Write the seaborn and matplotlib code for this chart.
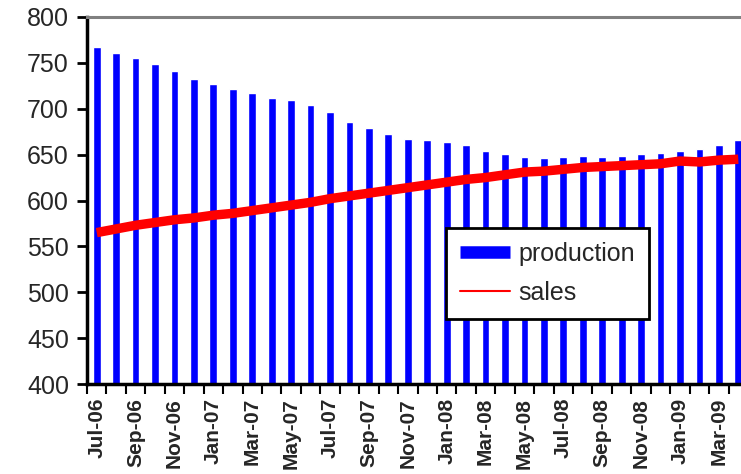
import numpy as np
import pandas as pd
import matplotlib
matplotlib.use("Agg")
import matplotlib.pyplot as plt
from matplotlib.lines import Line2D
import seaborn as sns

months = ["Jul-06", "Aug-06", "Sep-06", "Oct-06", "Nov-06", "Dec-06",
          "Jan-07", "Feb-07", "Mar-07", "Apr-07", "May-07", "Jun-07",
          "Jul-07", "Aug-07", "Sep-07", "Oct-07", "Nov-07", "Dec-07",
          "Jan-08", "Feb-08", "Mar-08", "Apr-08", "May-08", "Jun-08",
          "Jul-08", "Aug-08", "Sep-08", "Oct-08", "Nov-08", "Dec-08",
          "Jan-09", "Feb-09", "Mar-09", "Apr-09"]
production = [767, 761, 755, 749, 741, 732, 727, 721, 717, 712, 710, 704,
              697, 686, 679, 672, 667, 666, 664, 660, 654, 651, 647, 646,
              647, 648, 647, 648, 651, 652, 654, 656, 661, 666]
sales = [565, 569, 573, 576, 579, 581, 584, 586, 589, 592, 595, 598,
         602, 605, 608, 611, 614, 617, 620, 623, 625, 628, 631, 632,
         634, 636, 637, 638, 639, 640, 643, 642, 644, 645]
yticks = [400, 450, 500, 550, 600, 650, 700, 750, 800]

sns.set_theme(style="white")
plt.rcParams["font.family"] = ["Liberation Sans", "DejaVu Sans"]

df = pd.DataFrame({"month": months, "production": production, "sales": sales})
df["pos"] = np.arange(len(df))

fig = plt.figure(figsize=(7.41, 4.74), dpi=100)
ax = fig.add_axes([87 / 741, 90 / 474, 661 / 741, 367 / 474])

sns.barplot(data=df, x="month", y="production", color="#0000FF",
            saturation=1, width=0.4, ax=ax, order=months)
sns.lineplot(data=df, x="pos", y="sales", color="#FF0000", linewidth=6.8,
             ax=ax, solid_capstyle="butt")

ax.set_ylim(400, 800)
ax.set_xlim(-0.5, len(months) - 0.5)
ax.set_yticks(yticks)
ax.set_yticklabels([str(v) for v in yticks], fontsize=18)
ax.set_xticks(np.arange(0, len(months), 2))
ax.set_xticklabels(months[::2], rotation=90, fontsize=15, fontweight="bold")
ax.set_xticks(np.arange(-0.5, len(months), 1), minor=True)
ax.tick_params(axis="x", which="major", length=0, pad=10)
ax.tick_params(axis="x", which="minor", length=7, width=1.5, color="black",
               direction="out", bottom=True)
ax.tick_params(axis="y", length=7, width=2, color="black", direction="out",
               left=True, pad=6)
ax.set_xlabel("")
ax.set_ylabel("")

ax.spines["left"].set_color("black")
ax.spines["left"].set_linewidth(2.5)
ax.spines["bottom"].set_color("black")
ax.spines["bottom"].set_linewidth(2.5)
ax.spines["top"].set_color("#808080")
ax.spines["top"].set_linewidth(2.2)
ax.spines["right"].set_visible(False)

handles = [Line2D([0], [0], color="#0000FF", lw=9, solid_capstyle="butt"),
           Line2D([0], [0], color="#FF0000", lw=1.5)]
leg = ax.legend(handles, ["production", "sales"], loc="upper left",
                bbox_to_anchor=(0.543, 0.425), borderaxespad=0,
                fontsize=18, frameon=True, fancybox=False, edgecolor="black",
                framealpha=1, handlelength=2.0, labelspacing=0.6,
                handletextpad=0.35, borderpad=0.55)
leg.get_frame().set_linewidth(2)

fig.savefig("out.png", dpi=100)
